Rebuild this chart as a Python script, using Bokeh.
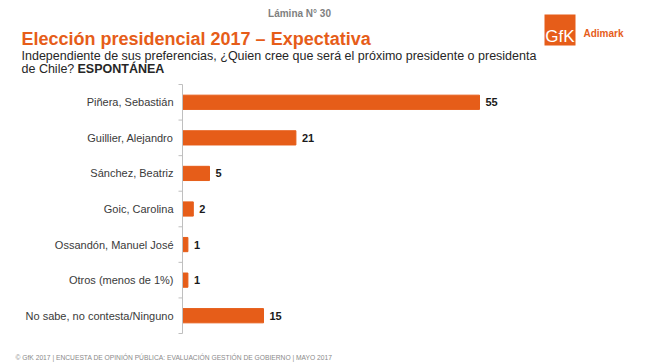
import numpy as np
from bokeh.plotting import figure
from bokeh.models import Range1d, Label, BoxAnnotation
from bokeh.embed import file_html
from bokeh.resources import INLINE
from bokeh.core.properties import value

categories = ["Piñera, Sebastián", "Guillier, Alejandro", "Sánchez, Beatriz",
              "Goic, Carolina", "Ossandón, Manuel José", "Otros (menos de 1%)",
              "No sabe, no contesta/Ninguno"]
values = [55, 21, 5, 2, 1, 1, 15]

title = "Elección presidencial 2017 – Expectativa"
subtitle1 = "Independiente de sus preferencias, ¿Quien cree que será el próximo presidente o presidenta"
subtitle2a = "de Chile?"
subtitle2b = "ESPONTÁNEA"
slide = "Lámina N° 30"
footer = "© GfK 2017 | ENCUESTA DE OPINIÓN PÚBLICA: EVALUACIÓN GESTIÓN DE GOBIERNO | MAYO 2017"

W, H = 649, 364
FL, FT, FB = 182, 84, 333      # plot area edges in page pixels
S = 5.4                        # pixels per percentage point
ORANGE = "#E65D19"
AXIS = "#BFBFBF"
FONT = "Liberation Sans"

n = len(categories)
idx = list(range(n))
step = (FB - FT) / n

p = figure(width=W, height=H, output_backend="svg", toolbar_location=None,
           x_range=Range1d(-FL / S, (W - FL) / S),
           y_range=Range1d((H - FT) / step - 0.5, -FT / step - 0.5),
           x_axis_location=None, y_axis_location=None,
           min_border=0)
p.outline_line_color = None
p.xgrid.visible = False
p.ygrid.visible = False

# bars and values
p.hbar(y=idx, left=0, right=values, height=0.4, color=ORANGE)
p.text(x=values, y=idx, text=[str(v) for v in values], x_offset=6,
       text_baseline="middle", text_font=value(FONT), text_font_style="bold",
       text_font_size="11px", text_color="#1a1a1a")

# category axis
p.segment(x0=0, y0=-0.5, x1=0, y1=n - 0.5, line_color=AXIS, line_width=1)
p.ray(x=[0] * (n + 1), y=[i - 0.5 for i in range(n + 1)], length=4,
      length_units="screen", angle=np.pi, line_color=AXIS, line_width=1)
p.text(x=[0] * n, y=idx, text=categories, x_offset=-9, text_align="right",
       text_baseline="middle", text_font=value(FONT), text_font_size="11px",
       text_color="#3a3a3a")


def lab(text, px, py, size, color, bold=False, align="left", baseline="alphabetic"):
    p.add_layout(Label(x=px, y=H - py, x_units="screen", y_units="screen",
                       text=text, text_font=FONT, text_font_size=f"{size}px",
                       text_color=color, text_font_style="bold" if bold else "normal",
                       text_align=align, text_baseline=baseline))


lab(slide, 299, 13, 10, "#7f7f7f", bold=True, align="center")
lab(title, 21, 38, 18, ORANGE, bold=True)
lab(subtitle1, 21, 55, 12.5, "#262626")
lab(subtitle2a, 21, 68, 12.5, "#262626")
lab(subtitle2b, 77, 68, 12.5, "#262626", bold=True)
lab(footer, 15, 357, 6.7, "#8a8a8a")

p.add_layout(BoxAnnotation(left=544, right=575, top=H - 14, bottom=H - 45,
                           left_units="screen", right_units="screen",
                           top_units="screen", bottom_units="screen",
                           fill_color=ORANGE, fill_alpha=1, line_color=None))
lab("GfK", 559.5, 36, 17, "white", align="center")
lab("Adimark", 583, 33, 10, ORANGE, bold=True)

open("out.html", "w").write(file_html(p, INLINE))
